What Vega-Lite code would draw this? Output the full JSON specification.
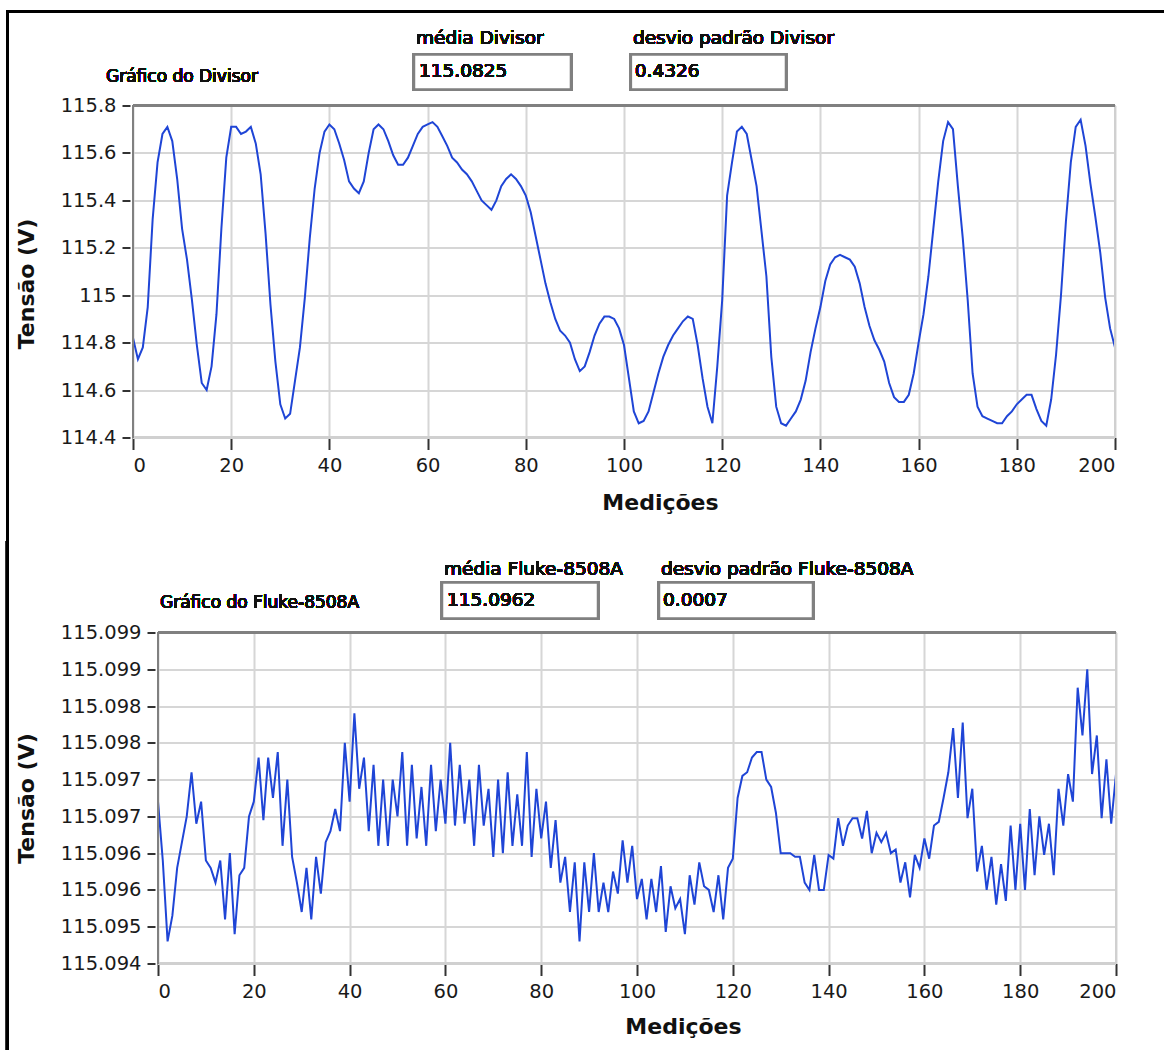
{
  "$schema": "https://vega.github.io/schema/vega-lite/v6.json",
  "padding": {"left": 5, "top": 8.5, "right": 0, "bottom": 0},
  "background": "white",
  "config": {
    "font": "DejaVu Sans",
    "view": {"stroke": null},
    "axis": {
      "labelFont": "DejaVu Sans", "labelFontSize": 19.5, "labelColor": "#1a1a1a",
      "titleFont": "DejaVu Sans", "titleFontWeight": "bold", "titleFontSize": 22, "titleColor": "#111111",
      "gridColor": "#d6d6d6", "gridWidth": 2, "gridOpacity": 1,
      "tickColor": "#333333", "tickWidth": 2, "tickSize": 10, "domain": false, "labelPadding": 6
    },
    "text": {"font": "DejaVu Sans", "fontSize": 18.5, "fontWeight": "normal", "color": "#111111", "align": "left", "baseline": "middle"}
  },
  "spacing": -3,
  "vconcat": [
    {
      "width": 982,
      "height": 332,
      "resolve": {"axis": {"x": "independent", "y": "independent"}},
      "data": {"values": [
        {"n":0,"v":114.82},{"n":1,"v":114.73},{"n":2,"v":114.78},{"n":3,"v":114.95},{"n":4,"v":115.32},{"n":5,"v":115.56},{"n":6,"v":115.68},{"n":7,"v":115.71},{"n":8,"v":115.65},{"n":9,"v":115.49},
        {"n":10,"v":115.28},{"n":11,"v":115.15},{"n":12,"v":114.98},{"n":13,"v":114.79},{"n":14,"v":114.63},{"n":15,"v":114.60},{"n":16,"v":114.70},{"n":17,"v":114.92},{"n":18,"v":115.28},{"n":19,"v":115.58},
        {"n":20,"v":115.71},{"n":21,"v":115.71},{"n":22,"v":115.68},{"n":23,"v":115.69},{"n":24,"v":115.71},{"n":25,"v":115.64},{"n":26,"v":115.51},{"n":27,"v":115.26},{"n":28,"v":114.96},{"n":29,"v":114.72},
        {"n":30,"v":114.54},{"n":31,"v":114.48},{"n":32,"v":114.50},{"n":33,"v":114.64},{"n":34,"v":114.78},{"n":35,"v":114.99},{"n":36,"v":115.24},{"n":37,"v":115.45},{"n":38,"v":115.60},{"n":39,"v":115.69},
        {"n":40,"v":115.72},{"n":41,"v":115.70},{"n":42,"v":115.64},{"n":43,"v":115.57},{"n":44,"v":115.48},{"n":45,"v":115.45},{"n":46,"v":115.43},{"n":47,"v":115.48},{"n":48,"v":115.60},{"n":49,"v":115.70},
        {"n":50,"v":115.72},{"n":51,"v":115.70},{"n":52,"v":115.65},{"n":53,"v":115.59},{"n":54,"v":115.55},{"n":55,"v":115.55},{"n":56,"v":115.58},{"n":57,"v":115.63},{"n":58,"v":115.68},{"n":59,"v":115.71},
        {"n":60,"v":115.72},{"n":61,"v":115.73},{"n":62,"v":115.71},{"n":63,"v":115.67},{"n":64,"v":115.63},{"n":65,"v":115.58},{"n":66,"v":115.56},{"n":67,"v":115.53},{"n":68,"v":115.51},{"n":69,"v":115.48},
        {"n":70,"v":115.44},{"n":71,"v":115.40},{"n":72,"v":115.38},{"n":73,"v":115.36},{"n":74,"v":115.40},{"n":75,"v":115.46},{"n":76,"v":115.49},{"n":77,"v":115.51},{"n":78,"v":115.49},{"n":79,"v":115.46},
        {"n":80,"v":115.42},{"n":81,"v":115.35},{"n":82,"v":115.25},{"n":83,"v":115.15},{"n":84,"v":115.05},{"n":85,"v":114.97},{"n":86,"v":114.90},{"n":87,"v":114.85},{"n":88,"v":114.83},{"n":89,"v":114.80},
        {"n":90,"v":114.73},{"n":91,"v":114.68},{"n":92,"v":114.70},{"n":93,"v":114.76},{"n":94,"v":114.83},{"n":95,"v":114.88},{"n":96,"v":114.91},{"n":97,"v":114.91},{"n":98,"v":114.90},{"n":99,"v":114.86},
        {"n":100,"v":114.79},{"n":101,"v":114.65},{"n":102,"v":114.51},{"n":103,"v":114.46},{"n":104,"v":114.47},{"n":105,"v":114.51},{"n":106,"v":114.59},{"n":107,"v":114.67},{"n":108,"v":114.74},{"n":109,"v":114.79},
        {"n":110,"v":114.83},{"n":111,"v":114.86},{"n":112,"v":114.89},{"n":113,"v":114.91},{"n":114,"v":114.90},{"n":115,"v":114.79},{"n":116,"v":114.65},{"n":117,"v":114.53},{"n":118,"v":114.46},{"n":119,"v":114.70},
        {"n":120,"v":114.98},{"n":121,"v":115.42},{"n":122,"v":115.56},{"n":123,"v":115.69},{"n":124,"v":115.71},{"n":125,"v":115.68},{"n":126,"v":115.57},{"n":127,"v":115.46},{"n":128,"v":115.27},{"n":129,"v":115.08},
        {"n":130,"v":114.74},{"n":131,"v":114.53},{"n":132,"v":114.46},{"n":133,"v":114.45},{"n":134,"v":114.48},{"n":135,"v":114.51},{"n":136,"v":114.56},{"n":137,"v":114.64},{"n":138,"v":114.76},{"n":139,"v":114.86},
        {"n":140,"v":114.95},{"n":141,"v":115.06},{"n":142,"v":115.13},{"n":143,"v":115.16},{"n":144,"v":115.17},{"n":145,"v":115.16},{"n":146,"v":115.15},{"n":147,"v":115.12},{"n":148,"v":115.05},{"n":149,"v":114.95},
        {"n":150,"v":114.87},{"n":151,"v":114.81},{"n":152,"v":114.77},{"n":153,"v":114.72},{"n":154,"v":114.63},{"n":155,"v":114.57},{"n":156,"v":114.55},{"n":157,"v":114.55},{"n":158,"v":114.58},{"n":159,"v":114.67},
        {"n":160,"v":114.80},{"n":161,"v":114.92},{"n":162,"v":115.08},{"n":163,"v":115.28},{"n":164,"v":115.48},{"n":165,"v":115.65},{"n":166,"v":115.73},{"n":167,"v":115.70},{"n":168,"v":115.46},{"n":169,"v":115.24},
        {"n":170,"v":114.98},{"n":171,"v":114.67},{"n":172,"v":114.53},{"n":173,"v":114.49},{"n":174,"v":114.48},{"n":175,"v":114.47},{"n":176,"v":114.46},{"n":177,"v":114.46},{"n":178,"v":114.49},{"n":179,"v":114.51},
        {"n":180,"v":114.54},{"n":181,"v":114.56},{"n":182,"v":114.58},{"n":183,"v":114.58},{"n":184,"v":114.52},{"n":185,"v":114.47},{"n":186,"v":114.45},{"n":187,"v":114.56},{"n":188,"v":114.75},{"n":189,"v":115.00},
        {"n":190,"v":115.31},{"n":191,"v":115.56},{"n":192,"v":115.71},{"n":193,"v":115.74},{"n":194,"v":115.63},{"n":195,"v":115.47},{"n":196,"v":115.33},{"n":197,"v":115.18},{"n":198,"v":114.99},{"n":199,"v":114.86},
        {"n":200,"v":114.78}
      ]},
      "layer": [
        {
          "mark": {"type": "line", "color": "#1f45d6", "strokeWidth": 2},
          "encoding": {
            "x": {"field": "n", "type": "quantitative", "scale": {"domain": [0, 200], "nice": false, "zero": false},
                  "axis": {"title": "Medições", "values": [0,20,40,60,80,100,120,140,160,180,200], "format": "d", "titleX": 527, "titlePadding": 17, "labelPadding": 7, "tickSize": 12}},
            "y": {"field": "v", "type": "quantitative", "scale": {"domain": [114.4, 115.8], "nice": false, "zero": false},
                  "axis": {"title": "Tensão (V)", "values": [114.4,114.6,114.8,115,115.2,115.4,115.6,115.8], "format": "~g", "titlePadding": 22, "titleY": 178, "offset": 3, "tickSize": 8}}
          }
        },
        {
          "mark": {"type": "rule", "color": "#d0d0d0", "strokeWidth": 2},
          "encoding": {
            "x": {"datum": 200, "type": "quantitative", "scale": {"domain": [0, 200], "nice": false, "zero": false}, "axis": null},
            "y": {"datum": 114.4, "type": "quantitative", "scale": {"domain": [114.4, 115.8], "nice": false, "zero": false}, "axis": null},
            "y2": {"datum": 115.8}
          }
        },
        {
          "mark": {"type": "rule", "color": "#d0d0d0", "strokeWidth": 2},
          "encoding": {
            "x": {"datum": 0, "type": "quantitative", "scale": {"domain": [0, 200], "nice": false, "zero": false}, "axis": null},
            "x2": {"datum": 200},
            "y": {"datum": 114.4, "type": "quantitative", "scale": {"domain": [114.4, 115.8], "nice": false, "zero": false}, "axis": null}
          }
        },
        {
          "mark": {"type": "rule", "color": "#808080", "strokeWidth": 2},
          "encoding": {
            "x": {"datum": 0, "type": "quantitative", "scale": {"domain": [0, 200], "nice": false, "zero": false}, "axis": null},
            "y": {"datum": 114.4, "type": "quantitative", "scale": {"domain": [114.4, 115.8], "nice": false, "zero": false}, "axis": null},
            "y2": {"datum": 115.8}
          }
        },
        {
          "mark": {"type": "rule", "color": "#808080", "strokeWidth": 2},
          "encoding": {
            "x": {"datum": 0, "type": "quantitative", "scale": {"domain": [0, 200], "nice": false, "zero": false}, "axis": null},
            "x2": {"datum": 200},
            "y": {"datum": 115.8, "type": "quantitative", "scale": {"domain": [114.4, 115.8], "nice": false, "zero": false}, "axis": null}
          }
        },
        {
          "mark": {"type": "rule", "color": "#000000", "strokeWidth": 3, "strokeCap": "square"},
          "encoding": {
            "x": {"datum": -25.56, "type": "quantitative", "scale": {"domain": [0, 200], "nice": false, "zero": false}, "axis": null},
            "y": {"datum": 116.1966, "type": "quantitative", "scale": {"domain": [114.4, 115.8], "nice": false, "zero": false}, "axis": null},
            "y2": {"datum": 113.9667}
          }
        },
        {
          "mark": {"type": "rule", "color": "#000000", "strokeWidth": 3, "strokeCap": "square"},
          "encoding": {
            "x": {"datum": -25.56, "type": "quantitative", "scale": {"domain": [0, 200], "nice": false, "zero": false}, "axis": null},
            "x2": {"datum": 209.57},
            "y": {"datum": 116.1966, "type": "quantitative", "scale": {"domain": [114.4, 115.8], "nice": false, "zero": false}, "axis": null}
          }
        },
        {
          "mark": {"type": "rect", "fill": "white", "stroke": "#808080", "strokeWidth": 2.5},
          "encoding": {
            "x": {"datum": 57.23, "type": "quantitative", "scale": {"domain": [0, 200], "nice": false, "zero": false}, "axis": null},
            "x2": {"datum": 89.2},
            "y": {"datum": 116.0152, "type": "quantitative", "scale": {"domain": [114.4, 115.8], "nice": false, "zero": false}, "axis": null},
            "y2": {"datum": 115.8675}
          }
        },
        {
          "mark": {"type": "rect", "fill": "white", "stroke": "#808080", "strokeWidth": 2.5},
          "encoding": {
            "x": {"datum": 101.4, "type": "quantitative", "scale": {"domain": [0, 200], "nice": false, "zero": false}, "axis": null},
            "x2": {"datum": 132.99},
            "y": {"datum": 116.0152, "type": "quantitative", "scale": {"domain": [114.4, 115.8], "nice": false, "zero": false}, "axis": null},
            "y2": {"datum": 115.8675}
          }
        },
        {
          "mark": {"type": "text", "text": "Gráfico do Divisor", "fontSize": 17},
          "encoding": {
            "x": {"datum": -5.5, "type": "quantitative", "scale": {"domain": [0, 200], "nice": false, "zero": false}, "axis": null},
            "y": {"datum": 115.922, "type": "quantitative", "scale": {"domain": [114.4, 115.8], "nice": false, "zero": false}, "axis": null}
          }
        },
        {
          "mark": {"type": "text", "text": "média Divisor"},
          "encoding": {
            "x": {"datum": 57.64, "type": "quantitative", "scale": {"domain": [0, 200], "nice": false, "zero": false}, "axis": null},
            "y": {"datum": 116.0827, "type": "quantitative", "scale": {"domain": [114.4, 115.8], "nice": false, "zero": false}, "axis": null}
          }
        },
        {
          "mark": {"type": "text", "text": "115.0825"},
          "encoding": {
            "x": {"datum": 58.25, "type": "quantitative", "scale": {"domain": [0, 200], "nice": false, "zero": false}, "axis": null},
            "y": {"datum": 115.9435, "type": "quantitative", "scale": {"domain": [114.4, 115.8], "nice": false, "zero": false}, "axis": null}
          }
        },
        {
          "mark": {"type": "text", "text": "desvio padrão Divisor"},
          "encoding": {
            "x": {"datum": 101.83, "type": "quantitative", "scale": {"domain": [0, 200], "nice": false, "zero": false}, "axis": null},
            "y": {"datum": 116.0827, "type": "quantitative", "scale": {"domain": [114.4, 115.8], "nice": false, "zero": false}, "axis": null}
          }
        },
        {
          "mark": {"type": "text", "text": "0.4326"},
          "encoding": {
            "x": {"datum": 102.2, "type": "quantitative", "scale": {"domain": [0, 200], "nice": false, "zero": false}, "axis": null},
            "y": {"datum": 115.9435, "type": "quantitative", "scale": {"domain": [114.4, 115.8], "nice": false, "zero": false}, "axis": null}
          }
        }
      ]
    },
    {
      "width": 983,
      "height": 331,
      "resolve": {"axis": {"x": "independent", "y": "independent"}},
      "data": {"values": [
        {"n":0,"v":115.09685},{"n":1,"v":115.09597},{"n":2,"v":115.09476},{"n":3,"v":115.095145},{"n":4,"v":115.09586},{"n":5,"v":115.096245},{"n":6,"v":115.09663},{"n":7,"v":115.09729},{"n":8,"v":115.09652},{"n":9,"v":115.09685},
        {"n":10,"v":115.09597},{"n":11,"v":115.09586},{"n":12,"v":115.09564},{"n":13,"v":115.09597},{"n":14,"v":115.09509},{"n":15,"v":115.09608},{"n":16,"v":115.09487},{"n":17,"v":115.09575},{"n":18,"v":115.09586},{"n":19,"v":115.09663},
        {"n":20,"v":115.09685},{"n":21,"v":115.09751},{"n":22,"v":115.096575},{"n":23,"v":115.09751},{"n":24,"v":115.096905},{"n":25,"v":115.097593},{"n":26,"v":115.09619},{"n":27,"v":115.09718},{"n":28,"v":115.096025},{"n":29,"v":115.09564},
        {"n":30,"v":115.0952},{"n":31,"v":115.09586},{"n":32,"v":115.09509},{"n":33,"v":115.096025},{"n":34,"v":115.095475},{"n":35,"v":115.096245},{"n":36,"v":115.09641},{"n":37,"v":115.09674},{"n":38,"v":115.09641},{"n":39,"v":115.09773},
        {"n":40,"v":115.09685},{"n":41,"v":115.09817},{"n":42,"v":115.097043},{"n":43,"v":115.09751},{"n":44,"v":115.09641},{"n":45,"v":115.0974},{"n":46,"v":115.09619},{"n":47,"v":115.09718},{"n":48,"v":115.09619},{"n":49,"v":115.09718},
        {"n":50,"v":115.09663},{"n":51,"v":115.097593},{"n":52,"v":115.09619},{"n":53,"v":115.0974},{"n":54,"v":115.0963},{"n":55,"v":115.09707},{"n":56,"v":115.09619},{"n":57,"v":115.0974},{"n":58,"v":115.09641},{"n":59,"v":115.09718},
        {"n":60,"v":115.09652},{"n":61,"v":115.09773},{"n":62,"v":115.096493},{"n":63,"v":115.0974},{"n":64,"v":115.09652},{"n":65,"v":115.09718},{"n":66,"v":115.09619},{"n":67,"v":115.0974},{"n":68,"v":115.096493},{"n":69,"v":115.097043},
        {"n":70,"v":115.096025},{"n":71,"v":115.09718},{"n":72,"v":115.09608},{"n":73,"v":115.09729},{"n":74,"v":115.09619},{"n":75,"v":115.09696},{"n":76,"v":115.09619},{"n":77,"v":115.097593},{"n":78,"v":115.096025},{"n":79,"v":115.097043},
        {"n":80,"v":115.0963},{"n":81,"v":115.09685},{"n":82,"v":115.09586},{"n":83,"v":115.096575},{"n":84,"v":115.09564},{"n":85,"v":115.096025},{"n":86,"v":115.0952},{"n":87,"v":115.095943},{"n":88,"v":115.09476},{"n":89,"v":115.095943},
        {"n":90,"v":115.0952},{"n":91,"v":115.09608},{"n":92,"v":115.0952},{"n":93,"v":115.09564},{"n":94,"v":115.0952},{"n":95,"v":115.095805},{"n":96,"v":115.095475},{"n":97,"v":115.096273},{"n":98,"v":115.09564},{"n":99,"v":115.09619},
        {"n":100,"v":115.095393},{"n":101,"v":115.095695},{"n":102,"v":115.09509},{"n":103,"v":115.095695},{"n":104,"v":115.0952},{"n":105,"v":115.095888},{"n":106,"v":115.094903},{"n":107,"v":115.095585},{"n":108,"v":115.095255},{"n":109,"v":115.095393},
        {"n":110,"v":115.09487},{"n":111,"v":115.09575},{"n":112,"v":115.09531},{"n":113,"v":115.095943},{"n":114,"v":115.095585},{"n":115,"v":115.09553},{"n":116,"v":115.0952},{"n":117,"v":115.09575},{"n":118,"v":115.09509},{"n":119,"v":115.09586},
        {"n":120,"v":115.095998},{"n":121,"v":115.096905},{"n":122,"v":115.097235},{"n":123,"v":115.09729},{"n":124,"v":115.09751},{"n":125,"v":115.097593},{"n":126,"v":115.097593},{"n":127,"v":115.09718},{"n":128,"v":115.09707},{"n":129,"v":115.096685},
        {"n":130,"v":115.09608},{"n":131,"v":115.09608},{"n":132,"v":115.09608},{"n":133,"v":115.096025},{"n":134,"v":115.096025},{"n":135,"v":115.09564},{"n":136,"v":115.09553},{"n":137,"v":115.096053},{"n":138,"v":115.09553},{"n":139,"v":115.09553},
        {"n":140,"v":115.096053},{"n":141,"v":115.095998},{"n":142,"v":115.096603},{"n":143,"v":115.09619},{"n":144,"v":115.096493},{"n":145,"v":115.096603},{"n":146,"v":115.096603},{"n":147,"v":115.0963},{"n":148,"v":115.096713},{"n":149,"v":115.09608},
        {"n":150,"v":115.096383},{"n":151,"v":115.096245},{"n":152,"v":115.096383},{"n":153,"v":115.09608},{"n":154,"v":115.096135},{"n":155,"v":115.09564},{"n":156,"v":115.095943},{"n":157,"v":115.09542},{"n":158,"v":115.096053},{"n":159,"v":115.09586},
        {"n":160,"v":115.0963},{"n":161,"v":115.095998},{"n":162,"v":115.096493},{"n":163,"v":115.096548},{"n":164,"v":115.096905},{"n":165,"v":115.09729},{"n":166,"v":115.09795},{"n":167,"v":115.096905},{"n":168,"v":115.098033},{"n":169,"v":115.096603},
        {"n":170,"v":115.097043},{"n":171,"v":115.095805},{"n":172,"v":115.09619},{"n":173,"v":115.09553},{"n":174,"v":115.096025},{"n":175,"v":115.09531},{"n":176,"v":115.095915},{"n":177,"v":115.095365},{"n":178,"v":115.096493},{"n":179,"v":115.09553},
        {"n":180,"v":115.09652},{"n":181,"v":115.09553},{"n":182,"v":115.09674},{"n":183,"v":115.09575},{"n":184,"v":115.09663},{"n":185,"v":115.096053},{"n":186,"v":115.09652},{"n":187,"v":115.09575},{"n":188,"v":115.097043},{"n":189,"v":115.096493},
        {"n":190,"v":115.097263},{"n":191,"v":115.09685},{"n":192,"v":115.098555},{"n":193,"v":115.09784},{"n":194,"v":115.09883},{"n":195,"v":115.097263},{"n":196,"v":115.09784},{"n":197,"v":115.096603},{"n":198,"v":115.097483},{"n":199,"v":115.09652},
        {"n":200,"v":115.097263}
      ]},
      "layer": [
        {
          "mark": {"type": "line", "color": "#1f45d6", "strokeWidth": 2},
          "encoding": {
            "x": {"field": "n", "type": "quantitative", "scale": {"domain": [0, 200], "range": [25, 983], "nice": false, "zero": false},
                  "axis": {"title": "Medições", "values": [0,20,40,60,80,100,120,140,160,180,200], "format": "d", "titleX": 550, "titlePadding": 15, "labelPadding": 7, "tickSize": 12}},
            "y": {"field": "v", "type": "quantitative", "scale": {"domain": [115.09443, 115.09938], "nice": false, "zero": false},
                  "axis": {"title": "Tensão (V)", "values": [115.09443,115.09498,115.09553,115.09608,115.09663,115.09718,115.09773,115.09828,115.09883,115.09938], "format": ".3f", "titlePadding": 22, "offset": -22, "tickSize": 8}}
          }
        },
        {
          "mark": {"type": "rule", "color": "#d0d0d0", "strokeWidth": 2},
          "encoding": {
            "x": {"datum": 200, "type": "quantitative", "scale": {"domain": [0, 200], "range": [25, 983], "nice": false, "zero": false}, "axis": null},
            "y": {"datum": 115.09443, "type": "quantitative", "scale": {"domain": [115.09443, 115.09938], "nice": false, "zero": false}, "axis": null},
            "y2": {"datum": 115.09938}
          }
        },
        {
          "mark": {"type": "rule", "color": "#d0d0d0", "strokeWidth": 2},
          "encoding": {
            "x": {"datum": 0, "type": "quantitative", "scale": {"domain": [0, 200], "range": [25, 983], "nice": false, "zero": false}, "axis": null},
            "x2": {"datum": 200},
            "y": {"datum": 115.09443, "type": "quantitative", "scale": {"domain": [115.09443, 115.09938], "nice": false, "zero": false}, "axis": null}
          }
        },
        {
          "mark": {"type": "rule", "color": "#808080", "strokeWidth": 2},
          "encoding": {
            "x": {"datum": 0, "type": "quantitative", "scale": {"domain": [0, 200], "range": [25, 983], "nice": false, "zero": false}, "axis": null},
            "y": {"datum": 115.09443, "type": "quantitative", "scale": {"domain": [115.09443, 115.09938], "nice": false, "zero": false}, "axis": null},
            "y2": {"datum": 115.09938}
          }
        },
        {
          "mark": {"type": "rule", "color": "#808080", "strokeWidth": 2},
          "encoding": {
            "x": {"datum": 0, "type": "quantitative", "scale": {"domain": [0, 200], "range": [25, 983], "nice": false, "zero": false}, "axis": null},
            "x2": {"datum": 200},
            "y": {"datum": 115.09938, "type": "quantitative", "scale": {"domain": [115.09443, 115.09938], "nice": false, "zero": false}, "axis": null}
          }
        },
        {
          "mark": {"type": "rule", "color": "#000000", "strokeWidth": 3, "strokeCap": "square"},
          "encoding": {
            "x": {"datum": -31.42, "type": "quantitative", "scale": {"domain": [0, 200], "range": [25, 983], "nice": false, "zero": false}, "axis": null},
            "y": {"datum": 115.1007334, "type": "quantitative", "scale": {"domain": [115.09443, 115.09938], "nice": false, "zero": false}, "axis": null},
            "y2": {"datum": 115.0931588}
          }
        },
        {
          "mark": {"type": "rect", "fill": "white", "stroke": "#808080", "strokeWidth": 2.5},
          "encoding": {
            "x": {"datum": 59.29, "type": "quantitative", "scale": {"domain": [0, 200], "range": [25, 983], "nice": false, "zero": false}, "axis": null},
            "x2": {"datum": 91.86},
            "y": {"datum": 115.100128, "type": "quantitative", "scale": {"domain": [115.09443, 115.09938], "nice": false, "zero": false}, "axis": null},
            "y2": {"datum": 115.099589}
          }
        },
        {
          "mark": {"type": "rect", "fill": "white", "stroke": "#808080", "strokeWidth": 2.5},
          "encoding": {
            "x": {"datum": 104.59, "type": "quantitative", "scale": {"domain": [0, 200], "range": [25, 983], "nice": false, "zero": false}, "axis": null},
            "x2": {"datum": 136.74},
            "y": {"datum": 115.100128, "type": "quantitative", "scale": {"domain": [115.09443, 115.09938], "nice": false, "zero": false}, "axis": null},
            "y2": {"datum": 115.099589}
          }
        },
        {
          "mark": {"type": "text", "text": "Gráfico do Fluke-8508A", "fontSize": 17},
          "encoding": {
            "x": {"datum": 0.42, "type": "quantitative", "scale": {"domain": [0, 200], "range": [25, 983], "nice": false, "zero": false}, "axis": null},
            "y": {"datum": 115.099814, "type": "quantitative", "scale": {"domain": [115.09443, 115.09938], "nice": false, "zero": false}, "axis": null}
          }
        },
        {
          "mark": {"type": "text", "text": "média  Fluke-8508A"},
          "encoding": {
            "x": {"datum": 59.71, "type": "quantitative", "scale": {"domain": [0, 200], "range": [25, 983], "nice": false, "zero": false}, "axis": null},
            "y": {"datum": 115.100337, "type": "quantitative", "scale": {"domain": [115.09443, 115.09938], "nice": false, "zero": false}, "axis": null}
          }
        },
        {
          "mark": {"type": "text", "text": "115.0962"},
          "encoding": {
            "x": {"datum": 60.33, "type": "quantitative", "scale": {"domain": [0, 200], "range": [25, 983], "nice": false, "zero": false}, "axis": null},
            "y": {"datum": 115.099859, "type": "quantitative", "scale": {"domain": [115.09443, 115.09938], "nice": false, "zero": false}, "axis": null}
          }
        },
        {
          "mark": {"type": "text", "text": "desvio padrão  Fluke-8508A"},
          "encoding": {
            "x": {"datum": 105.01, "type": "quantitative", "scale": {"domain": [0, 200], "range": [25, 983], "nice": false, "zero": false}, "axis": null},
            "y": {"datum": 115.100337, "type": "quantitative", "scale": {"domain": [115.09443, 115.09938], "nice": false, "zero": false}, "axis": null}
          }
        },
        {
          "mark": {"type": "text", "text": "0.0007"},
          "encoding": {
            "x": {"datum": 105.43, "type": "quantitative", "scale": {"domain": [0, 200], "range": [25, 983], "nice": false, "zero": false}, "axis": null},
            "y": {"datum": 115.099859, "type": "quantitative", "scale": {"domain": [115.09443, 115.09938], "nice": false, "zero": false}, "axis": null}
          }
        }
      ]
    }
  ]
}
